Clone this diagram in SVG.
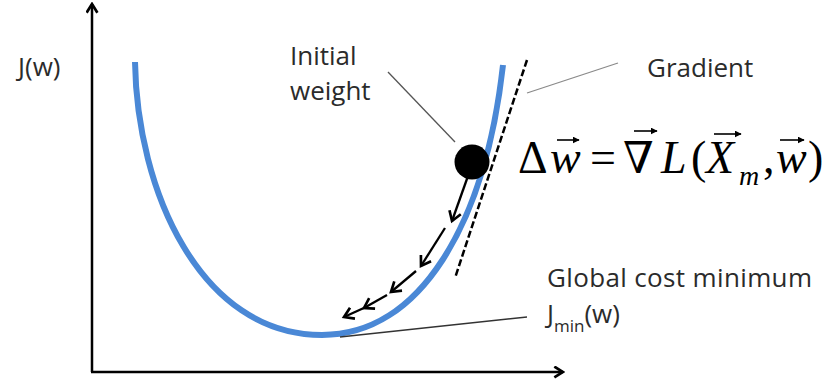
<svg xmlns="http://www.w3.org/2000/svg" width="839" height="384" viewBox="0 0 839 384">
  <defs>
    <style>
      .lbl { font-family: "Open Sans", "Liberation Sans", sans-serif; font-size: 26px; fill: #2b2b2b; }
      .sub { font-size: 17px; }
      .math { font-family: "Liberation Serif", "DejaVu Serif", serif; font-size: 46px; fill: #000; }
      .it { font-style: italic; }
      .axis { stroke: #000; stroke-width: 2.5; fill: none; }
      .step { stroke: #000; stroke-width: 2.3; fill: none; }
      .vec { stroke: #000; stroke-width: 1.6; fill: none; }
    </style>
    <marker id="axhead" viewBox="0 0 12 12" refX="10" refY="6" markerWidth="13" markerHeight="13" markerUnits="userSpaceOnUse" orient="auto">
      <path d="M2,1 L10,6 L2,11" stroke="#000" stroke-width="2.5" fill="none"/>
    </marker>
    <marker id="stephead" viewBox="0 0 12 12" refX="10" refY="6" markerWidth="16" markerHeight="16" markerUnits="userSpaceOnUse" orient="auto">
      <path d="M3,1.5 L10,6 L3,10.5" stroke="#000" stroke-width="2" fill="none"/>
    </marker>
    <marker id="vechead" viewBox="0 0 10 10" refX="9" refY="5" markerWidth="7" markerHeight="7" markerUnits="userSpaceOnUse" orient="auto">
      <path d="M0,0 L10,5 L0,10 Z" fill="#000"/>
    </marker>
  </defs>
  <rect width="839" height="384" fill="#fff"/>

  <g id="axes">
    <line class="axis" x1="92" y1="372" x2="92" y2="4" marker-end="url(#axhead)"/>
    <line class="axis" x1="91" y1="372" x2="563" y2="372" marker-end="url(#axhead)"/>
  </g>

  <g id="cost-curve">
    <path d="M135,62 C137,190 200,335 322,335 C420,335 485,225 503,65" stroke="#4a88d6" stroke-width="6" fill="none"/>
  </g>

  <g id="connectors">
    <line id="tangent" x1="527" y1="60" x2="455" y2="278" stroke="#000" stroke-width="2.5" stroke-dasharray="7 3"/>
    <line id="gradient-leader" x1="527" y1="93" x2="618" y2="63" stroke="#8a8a8a" stroke-width="1.3"/>
    <line id="initial-leader" x1="388" y1="72" x2="455" y2="142" stroke="#555" stroke-width="1.3"/>
    <line id="minimum-leader" x1="340" y1="337" x2="527" y2="317" stroke="#333" stroke-width="1.6"/>
    <g id="descent-steps">
      <line class="step" x1="468" y1="176" x2="452" y2="221" marker-end="url(#stephead)"/>
      <line class="step" x1="445" y1="228" x2="421" y2="266" marker-end="url(#stephead)"/>
      <line class="step" x1="416" y1="271" x2="391" y2="292" marker-end="url(#stephead)"/>
      <line class="step" x1="387" y1="295" x2="364" y2="308" marker-end="url(#stephead)"/>
      <line class="step" x1="366" y1="307" x2="344" y2="317" marker-end="url(#stephead)"/>
    </g>
  </g>

  <g id="initial-weight-point">
    <circle cx="472" cy="162" r="17.5" fill="#000"/>
  </g>

  <g id="label-jw">
    <text class="lbl" x="18" y="76">J(w)</text>
  </g>
  <g id="label-initial">
    <text class="lbl" x="290" y="65">Initial</text>
    <text class="lbl" x="290" y="100">weight</text>
  </g>
  <g id="label-gradient">
    <text class="lbl" x="647" y="77">Gradient</text>
  </g>
  <g id="label-minimum">
    <text class="lbl" x="547" y="287" textLength="265">Global cost minimum</text>
    <text class="lbl" x="547" y="323">J<tspan class="sub" dy="9">min</tspan><tspan dy="-9">(w)</tspan></text>
  </g>

  <g id="formula">
    <text class="math" y="173">
      <tspan x="518">Δ</tspan><tspan class="it" x="550">w</tspan><tspan x="590">=</tspan><tspan x="623" font-size="44">∇</tspan><tspan class="it" x="661">L</tspan><tspan x="691">(</tspan><tspan class="it" x="706">X</tspan><tspan class="it" x="739" y="185" font-size="28">m</tspan><tspan x="763" y="173">,</tspan><tspan class="it" x="776">w</tspan><tspan x="808">)</tspan>
    </text>
    <line class="vec" x1="557" y1="140" x2="579" y2="140" marker-end="url(#vechead)"/>
    <line class="vec" x1="634" y1="131" x2="657" y2="131" marker-end="url(#vechead)"/>
    <line class="vec" x1="714" y1="134" x2="741" y2="134" marker-end="url(#vechead)"/>
    <line class="vec" x1="780" y1="140" x2="804" y2="140" marker-end="url(#vechead)"/>
  </g>
</svg>
